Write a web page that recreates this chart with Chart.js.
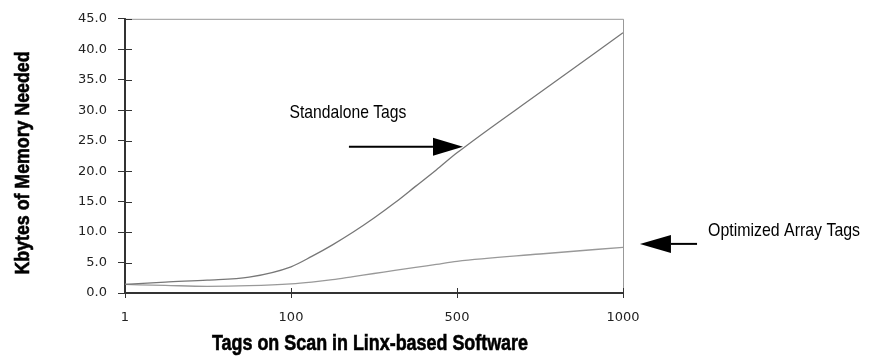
<!DOCTYPE html>
<html>
<head>
<meta charset="utf-8">
<script src="https://cdn.jsdelivr.net/npm/chart.js@4.4.1/dist/chart.umd.min.js"></script>
<style>
html,body{margin:0;padding:0;background:#fff;}
#wrap{width:871px;height:358px;position:relative;}
</style>
</head>
<body>
<div id="wrap"><canvas id="c" width="871" height="358"></canvas></div>
<script>
// ---- data ----
const tickTags = [1, 100, 500, 1000];            // x tick labels (equally spaced on the axis)
const tickLabels = ['1', '100', '500', '1000'];
const tagCounts = [1, 25, 50, 75, 100, 150, 200, 250, 300, 350, 400, 450, 500, 750, 1000];
const standaloneKB = [1.4, 1.8, 2.1, 2.6, 4.3, 6.0, 7.9, 10.0, 12.3, 14.8, 17.5, 20.2, 23.0, 32.9, 42.7];
const optimizedKB  = [1.4, 1.25, 1.1, 1.2, 1.5, 1.8, 2.2, 2.7, 3.2, 3.7, 4.2, 4.7, 5.2, 6.4, 7.5];
const yTicks = [0, 5, 10, 15, 20, 25, 30, 35, 40, 45];

// axis position of a tag count: piecewise linear between tick tags
function tagPos(t) {
  for (let i = 0; i < tickTags.length - 1; i++) {
    if (t <= tickTags[i + 1]) return i + (t - tickTags[i]) / (tickTags[i + 1] - tickTags[i]);
  }
  return tickTags.length - 1;
}
const toPts = vals => tagCounts.map((t, i) => ({x: tagPos(t), y: vals[i]}));

function drawFit(ctx, text, cx, cy, font, width, rot, bold) {
  ctx.save();
  ctx.font = font;
  const w = ctx.measureText(text).width;
  ctx.translate(cx, cy);
  if (rot) ctx.rotate(rot);
  ctx.scale(width / w, 1);
  ctx.textAlign = 'center';
  ctx.textBaseline = 'middle';
  ctx.fillStyle = '#000';
  ctx.fillText(text, 0, 0);
  if (bold) { ctx.strokeStyle = '#000'; ctx.lineWidth = bold; ctx.strokeText(text, 0, 0); }
  ctx.restore();
}
function arrow(ctx, x1, y, x2, head, half) {
  const dir = Math.sign(x2 - x1);
  ctx.save();
  ctx.strokeStyle = '#000'; ctx.fillStyle = '#000'; ctx.lineWidth = 2;
  ctx.beginPath(); ctx.moveTo(x1, y); ctx.lineTo(x2 - dir * head, y); ctx.stroke();
  ctx.beginPath(); ctx.moveTo(x2, y); ctx.lineTo(x2 - dir * head, y - half); ctx.lineTo(x2 - dir * head, y + half); ctx.closePath(); ctx.fill();
  ctx.restore();
}

const decor = {
  id: 'decor',
  beforeDatasetsDraw(chart) {
    const {ctx, chartArea: a, scales: {x, y}} = chart;
    ctx.save();
    ctx.strokeStyle = '#999'; ctx.lineWidth = 1;
    ctx.beginPath(); ctx.moveTo(a.left, a.top + 0.5); ctx.lineTo(a.right + 0.5, a.top + 0.5); ctx.lineTo(a.right + 0.5, a.bottom); ctx.stroke();
    ctx.strokeStyle = '#333'; ctx.lineWidth = 1;
    yTicks.forEach(v => { const py = Math.round(y.getPixelForValue(v)) + 0.5; ctx.beginPath(); ctx.moveTo(a.left, py); ctx.lineTo(a.left + 7, py); ctx.stroke(); });
    tickTags.forEach((t, i) => { const px = Math.round(x.getPixelForValue(i)) + 0.5; ctx.beginPath(); ctx.moveTo(px, a.bottom); ctx.lineTo(px, a.bottom - 5); ctx.stroke(); });
    ctx.restore();
  },
  afterDraw(chart) {
    const {ctx, chartArea: a, scales: {x, y}} = chart;
    drawFit(ctx, 'Kbytes of Memory Needed', 23, 163, 'bold 21px "Liberation Sans"', 223, -Math.PI / 2, 0.6);
    drawFit(ctx, 'Tags on Scan in Linx-based Software', (a.left + a.right) / 2 - 4, 344, 'bold 22px "Liberation Sans"', 316, 0, 0.6);
    drawFit(ctx, 'Standalone Tags', x.getPixelForValue(1.343), y.getPixelForValue(29.5), '19px "Liberation Sans"', 117);
    arrow(ctx, x.getPixelForValue(1.349), y.getPixelForValue(24.0), x.getPixelForValue(2.036), 30, 9);
    drawFit(ctx, 'Optimized Array Tags', x.getPixelForValue(3.97), y.getPixelForValue(10.2), '19px "Liberation Sans"', 152);
    arrow(ctx, x.getPixelForValue(3.446), y.getPixelForValue(8.06), x.getPixelForValue(3.102), 31, 9);
  }
};

new Chart(document.getElementById('c'), {
  type: 'line',
  data: {
    datasets: [
      {label: 'Standalone Tags', data: toPts(standaloneKB), borderColor: '#777', borderWidth: 1.3, pointRadius: 0, cubicInterpolationMode: 'monotone', fill: false},
      {label: 'Optimized Array Tags', data: toPts(optimizedKB), borderColor: '#999', borderWidth: 1.3, pointRadius: 0, cubicInterpolationMode: 'monotone', fill: false}
    ]
  },
  options: {
    responsive: false,
    animation: false,
    events: [],
    layout: {padding: {left: 0, right: 248, top: 14, bottom: 0}},
    plugins: {legend: {display: false}, tooltip: {enabled: false}},
    scales: {
      x: {
        type: 'linear', min: 0, max: tickTags.length - 1,
        afterBuildTicks: s => { s.ticks = tickTags.map((t, i) => ({value: i})); },
        afterFit: s => { s.height = 65; },
        ticks: {callback: (v) => tickLabels[v], color: '#222', font: {family: 'DejaVu Sans', size: 13}, padding: 12, maxRotation: 0, autoSkip: false},
        grid: {drawOnChartArea: false, drawTicks: true, tickLength: 5, color: '#333'},
        border: {color: '#333', width: 2}
      },
      y: {
        min: 0, max: 45,
        afterBuildTicks: s => { s.ticks = yTicks.map(v => ({value: v})); },
        afterFit: s => { s.width = 125; },
        ticks: {callback: v => v.toFixed(1), color: '#222', font: {family: 'DejaVu Sans', size: 13}, padding: 11},
        grid: {drawOnChartArea: false, drawTicks: true, tickLength: 7, color: '#333'},
        border: {color: '#333', width: 2}
      }
    }
  },
  plugins: [decor]
});
</script>
</body>
</html>
